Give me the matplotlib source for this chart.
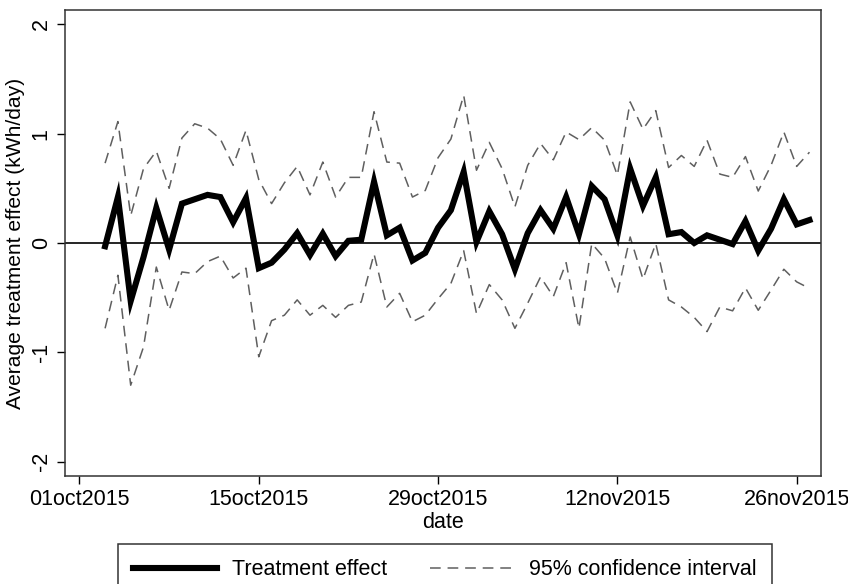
import matplotlib
matplotlib.use("Agg")
import matplotlib.pyplot as plt
from matplotlib.lines import Line2D
import pandas as pd

plt.rcParams["font.family"] = ["Liberation Sans", "DejaVu Sans"]

# Daily observations, 03oct2015 .. 27nov2015
start_date = "2015-10-03"
end_date = "2015-11-27"

effect = [
    -0.03, 0.42, -0.53, -0.13, 0.32, -0.06, 0.36, 0.40, 0.44, 0.42,
    0.19, 0.41, -0.23, -0.18, -0.06, 0.09, -0.11, 0.085, -0.12, 0.02,
    0.03, 0.56, 0.07, 0.14, -0.16, -0.09, 0.14, 0.30, 0.65, 0.01,
    0.29, 0.08, -0.24, 0.09, 0.30, 0.13, 0.42, 0.08, 0.52, 0.40,
    0.07, 0.68, 0.34, 0.60, 0.08, 0.10, 0.00, 0.07, 0.03, -0.01,
    0.20, -0.07, 0.13, 0.40, 0.17, 0.21,
]
ci_upper = [
    0.73, 1.11, 0.25, 0.68, 0.84, 0.50, 0.96, 1.09, 1.05, 0.95,
    0.71, 1.03, 0.58, 0.36, 0.55, 0.70, 0.44, 0.74, 0.42, 0.60,
    0.60, 1.20, 0.74, 0.73, 0.42, 0.48, 0.78, 0.95, 1.35, 0.665,
    0.92, 0.68, 0.33, 0.71, 0.91, 0.76, 1.015, 0.945, 1.055, 0.94,
    0.62, 1.29, 1.04, 1.21, 0.69, 0.80, 0.70, 0.94, 0.63, 0.60,
    0.79, 0.475, 0.71, 1.015, 0.70, 0.83,
]
ci_lower = [
    -0.78, -0.295, -1.30, -0.95, -0.22, -0.615, -0.265, -0.28, -0.17, -0.12,
    -0.32, -0.23, -1.04, -0.71, -0.66, -0.52, -0.66, -0.57, -0.68, -0.57,
    -0.54, -0.10, -0.585, -0.46, -0.72, -0.66, -0.51, -0.37, -0.07, -0.645,
    -0.38, -0.52, -0.78, -0.55, -0.31, -0.49, -0.18, -0.78, -0.005, -0.14,
    -0.46, 0.055, -0.33, -0.005, -0.52, -0.585, -0.68, -0.81, -0.585, -0.62,
    -0.41, -0.615, -0.43, -0.24, -0.355, -0.415,
]

tick_dates = ["2015-10-01", "2015-10-15", "2015-10-29", "2015-11-12", "2015-11-26"]
tick_labels = ["01oct2015", "15oct2015", "29oct2015", "12nov2015", "26nov2015"]
y_ticks = [-2, -1, 0, 1, 2]

dates = pd.date_range(start_date, end_date, freq="D")

FS = 15.5

fig = plt.figure(figsize=(8.48, 5.84), dpi=100)
ax = fig.add_axes([65 / 848, 1 - 476 / 584, (821 - 65) / 848, (476 - 10) / 584])

ci_style = dict(color="#5f5f5f", lw=1.1, dashes=(7, 4.5))
ax.plot(dates, ci_upper, **ci_style)
ax.plot(dates, ci_lower, **ci_style)
ax.axhline(0, color="black", lw=1.2, zorder=2)
ax.plot(dates, effect, color="black", lw=4.4, solid_joinstyle="miter", zorder=3)

t0 = pd.Timestamp("2015-10-01")
ax.set_xlim(t0 - pd.Timedelta(days=1.13), t0 + pd.Timedelta(days=57.9))
ax.set_ylim(-2.13, 2.13)

ax.set_xticks(pd.to_datetime(tick_dates))
ax.set_xticklabels(tick_labels)
ax.set_yticks(y_ticks)
ax.set_yticklabels([str(v) for v in y_ticks], rotation=90, va="center")

ax.tick_params(axis="both", direction="out", length=5.5, width=1, labelsize=FS,
               colors="black", pad=4)
for s in ax.spines.values():
    s.set_linewidth(1.1)
    s.set_color("#333333")

ax.set_xlabel("date", fontsize=FS, labelpad=1)
ax.set_ylabel("Average treatment effect (kWh/day)", fontsize=15.1, labelpad=4)

handles = [
    Line2D([], [], color="black", lw=4.4),
    Line2D([], [], **ci_style),
]
leg = fig.legend(handles, ["Treatment effect", "95% confidence interval"],
                 loc="upper center", bbox_to_anchor=(445 / 848, 1 - 544 / 584),
                 ncol=2, fontsize=FS, frameon=True, fancybox=False,
                 edgecolor="black", handlelength=3.9, handletextpad=0.7,
                 columnspacing=2.0, borderpad=0.7, borderaxespad=0)
leg.get_frame().set_linewidth(1.1)

fig.savefig("out.png", dpi=100)
